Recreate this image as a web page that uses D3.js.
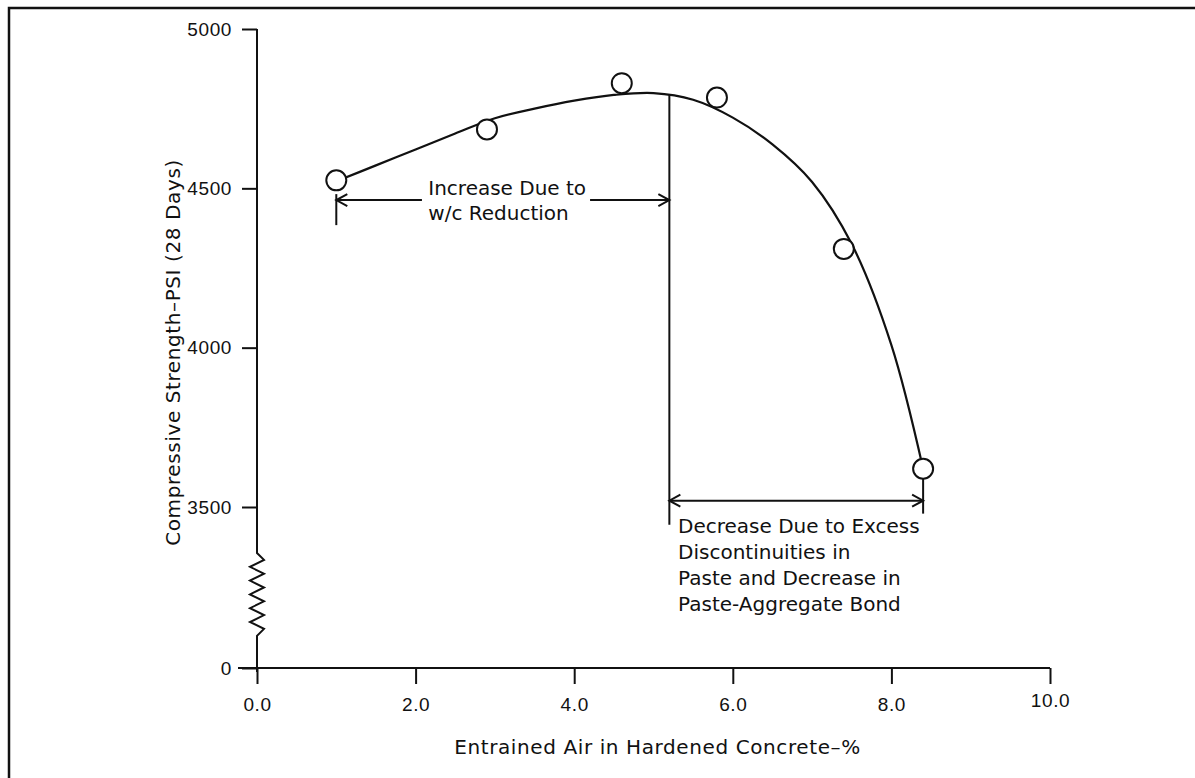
<!DOCTYPE html>
<html>
<head>
<meta charset="utf-8">
<script src="https://cdn.jsdelivr.net/npm/d3@7"></script>
<style>
  body { margin: 0; background: #fff; }
  svg { display: block; }
  text { font-family: "DejaVu Sans", sans-serif; fill: #111; }
  .axis path, .axis line { stroke: #111; stroke-width: 2; }
  .axis text { font-size: 19px; font-family: "Liberation Sans", Arial, sans-serif; letter-spacing: 0.6px; fill: #111; }
  .note { font-size: 20px; }
  .title { font-size: 20px; letter-spacing: 0.6px; }
</style>
</head>
<body>
<div id="chart"></div>
<script>
// measured points
const airContent = [1.0, 2.9, 4.6, 5.8, 7.4, 8.4];
const strengthPsi = [4525, 4685, 4830, 4785, 4310, 3620];

// hand-fitted curve
const fitAir = [1.0, 1.5, 2.0, 2.5, 3.0, 3.5, 4.0, 4.5, 5.0, 5.5, 6.0, 6.5, 7.0, 7.5, 8.0, 8.4];
const fitStrength = [4522, 4572, 4622, 4672, 4720, 4750, 4775, 4793, 4799, 4778, 4722, 4638, 4520, 4325, 4008, 3620];

const xTicks = [0, 2, 4, 6, 8, 10];
const yTicks = [0, 3500, 4000, 4500, 5000];

// annotations
const peakAir = 5.2;
const peakStrength = 4796;
const increaseLevel = 4463;
const decreaseLevel = 3520;
const increaseText = ['Increase Due to', 'w/c Reduction'];
const decreaseText = ['Decrease Due to Excess', 'Discontinuities in', 'Paste and Decrease in', 'Paste-Aggregate Bond'];
const axisBreak = [700, 2500];

const W = 1195, H = 778;

const svg = d3.select('#chart').append('svg')
    .attr('width', W)
    .attr('height', H);

// frame (left and top edge only, as in the scan)
svg.append('path')
    .attr('d', `M9,${H} L9,8 L${W},8`)
    .attr('fill', 'none')
    .attr('stroke', '#111')
    .attr('stroke-width', 2.5);

const x = d3.scaleLinear().domain([0, 10]).range([257, 1050]);
// broken axis: 0 sits right below 3500
const y = d3.scaleLinear().domain([0, 3500, 5000]).range([668, 507, 29]);

// x axis
const xAxis = svg.append('g')
    .attr('class', 'axis')
    .attr('transform', `translate(0,${y(0)})`)
    .call(d3.axisBottom(x).tickValues(xTicks).tickSize(16).tickPadding(14).tickSizeOuter(0)
        .tickFormat(d3.format('.1f')));
xAxis.select('.domain').attr('d', `M${x(0) - 19},0H${x(10)}`);
xAxis.selectAll('.tick text').filter(d => d === 10).attr('dy', '0.45em');

// y axis
const yAxis = svg.append('g')
    .attr('class', 'axis')
    .attr('transform', `translate(${x(0)},0)`)
    .call(d3.axisLeft(y).tickValues(yTicks).tickSize(15).tickPadding(10).tickSizeOuter(0)
        .tickFormat(d => d));
yAxis.select('.domain').remove();

// axis line with zigzag break
const zTop = y(axisBreak[1]), zBot = y(axisBreak[0]);
const zigPts = [[0, y(5000)], [0, zTop]];
const nZig = 12;
for (let i = 1; i < nZig; i++) {
    zigPts.push([i % 2 ? 7 : -7, zTop + (zBot - zTop) * i / nZig]);
}
zigPts.push([0, zBot], [0, y(0) + 4]);
yAxis.append('path')
    .attr('d', d3.line()(zigPts))
    .attr('fill', 'none')
    .attr('stroke', '#111')
    .attr('stroke-width', 2);

// axis titles
svg.append('text')
    .attr('class', 'title')
    .attr('x', (x(0) + x(10)) / 2 + 4)
    .attr('y', 754)
    .attr('text-anchor', 'middle')
    .text('Entrained Air in Hardened Concrete\u2013%');

svg.append('text')
    .attr('class', 'title')
    .attr('transform', `translate(180,${(y(5000) + y(0)) / 2 + 4}) rotate(-90)`)
    .attr('text-anchor', 'middle')
    .text('Compressive Strength\u2013PSI (28 Days)');

// fitted curve
const fit = fitAir.map((a, i) => [a, fitStrength[i]]);
svg.append('path')
    .datum(fit)
    .attr('fill', 'none')
    .attr('stroke', '#111')
    .attr('stroke-width', 2.2)
    .attr('d', d3.line().x(d => x(d[0])).y(d => y(d[1])).curve(d3.curveCatmullRom));

// annotation lines
const ink = g => g.attr('stroke', '#111').attr('stroke-width', 2).attr('fill', 'none');

function arrowHead(px, py, dir) {
    svg.append('path')
        .attr('d', `M${px - dir * 11},${py - 6} L${px},${py} L${px - dir * 11},${py + 6}`)
        .call(ink);
}

const yi = y(increaseLevel);
const yd = y(decreaseLevel);

// divider at the peak
svg.append('line')
    .attr('x1', x(peakAir)).attr('x2', x(peakAir))
    .attr('y1', y(peakStrength)).attr('y2', yd + 24)
    .call(ink);

// increase arrow
svg.append('line')
    .attr('x1', x(1.0)).attr('x2', x(1.0))
    .attr('y1', yi - 6).attr('y2', yi + 25)
    .call(ink);
svg.append('line')
    .attr('x1', x(1.0)).attr('x2', x(2.08))
    .attr('y1', yi).attr('y2', yi)
    .call(ink);
svg.append('line')
    .attr('x1', x(4.2)).attr('x2', x(peakAir))
    .attr('y1', yi).attr('y2', yi)
    .call(ink);
arrowHead(x(1.0), yi, -1);
arrowHead(x(peakAir), yi, 1);

svg.append('text')
    .attr('class', 'note')
    .attr('x', x(2.16))
    .attr('y', yi - 5)
    .selectAll('tspan')
    .data(increaseText)
    .join('tspan')
    .attr('x', x(2.16))
    .attr('dy', (d, i) => i ? 25 : 0)
    .text(d => d);

// decrease arrow
svg.append('line')
    .attr('x1', x(8.4)).attr('x2', x(8.4))
    .attr('y1', y(3620) + 10).attr('y2', yd + 13)
    .call(ink);
svg.append('line')
    .attr('x1', x(peakAir)).attr('x2', x(8.4))
    .attr('y1', yd).attr('y2', yd)
    .call(ink);
arrowHead(x(peakAir), yd, -1);
arrowHead(x(8.4), yd, 1);

svg.append('text')
    .attr('class', 'note')
    .attr('x', x(5.31))
    .attr('y', yd + 32)
    .selectAll('tspan')
    .data(decreaseText)
    .join('tspan')
    .attr('x', x(5.31))
    .attr('dy', (d, i) => i ? 26 : 0)
    .text(d => d);

// measured points
svg.selectAll('.pt')
    .data(airContent.map((a, i) => [a, strengthPsi[i]]))
    .join('circle')
    .attr('class', 'pt')
    .attr('cx', d => x(d[0]))
    .attr('cy', d => y(d[1]))
    .attr('r', 10)
    .attr('fill', '#fff')
    .attr('stroke', '#111')
    .attr('stroke-width', 2);
</script>
</body>
</html>
